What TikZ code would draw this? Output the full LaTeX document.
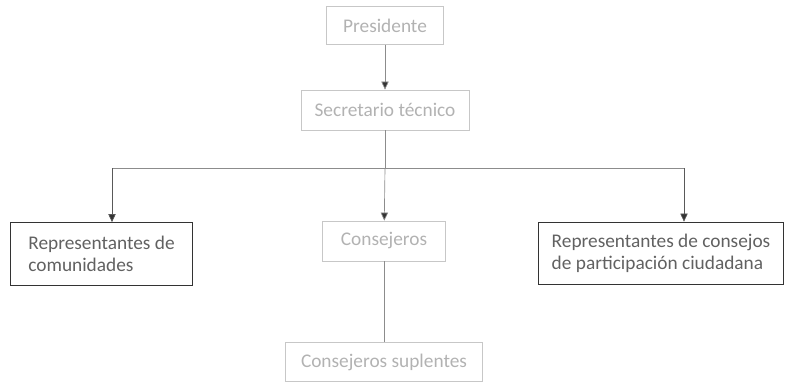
\documentclass[tikz,border=0pt]{standalone}
\usepackage{fontspec}
\setmainfont{Carlito}
\usetikzlibrary{arrows.meta}
\tikzset{
  faded/.style={draw=black!22, text=black!30, minimum height=28pt, line width=0.6pt},
  dark/.style={draw=black!80, text=black!62, minimum height=47pt, align=left, line width=0.8pt},
  link/.style={draw=black!45, line width=0.5pt},
}
\begin{document}
\begin{tikzpicture}[x=0.75pt, y=0.75pt, >={Triangle[length=6pt,width=5.5pt,fill=black!80]},
                    font=\fontsize{14.5pt}{16.5pt}\selectfont]
  \useasboundingbox (0,0) rectangle (786,-383);
  % Top of the chart
  \node[faded, minimum width=88pt] (pres) at (385,-25.5) {Presidente};
  \node[faded, minimum width=126pt, minimum height=30pt] (sec) at (385,-110) {Secretario técnico};
  % Second level
  \node[dark, minimum width=137pt] (com) at (101.5,-254) {Representantes de\\comunidades};
  \node[faded, minimum width=92pt, minimum height=30pt] (cons) at (384,-241) {Consejeros};
  \node[dark, minimum width=184pt] (part) at (661,-253.5) {Representantes de consejos\\de participación ciudadana};
  % Bottom
  \node[faded, minimum width=148pt, minimum height=29pt] (supl) at (384,-362) {Consejeros suplentes};
  % Bus line
  \coordinate (bus) at (385,-168);
  \coordinate (busL) at (112,-168);
  \coordinate (busR) at (684,-168);
  \draw[link, ->] (pres) -- (sec);
  \draw[link] (sec) -- (bus);
  \draw[link] (busL) -- (busR);
  \draw[link, draw=black!65, ->] (busL) -- (busL |- com.north);
  \draw[link, ->] (bus) -- (cons);
  \draw[link, draw=black!65, ->] (busR) -- (busR |- part.north);
  \draw[link] (cons) -- (supl);
\end{tikzpicture}
\end{document}
